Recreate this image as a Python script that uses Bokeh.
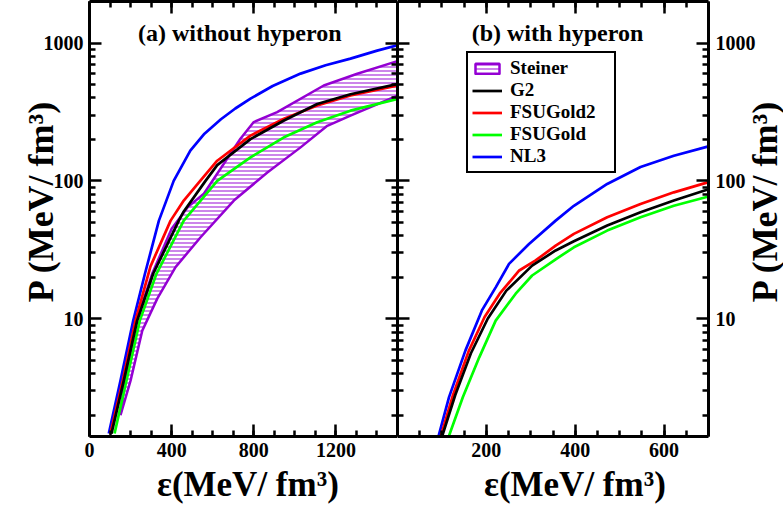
import math
from bokeh.plotting import figure
from bokeh.layouts import row
from bokeh.models import (LogAxis, LinearAxis, FixedTicker, Legend, LegendItem,
                          Label, Range1d)
from bokeh.embed import file_html
from bokeh.resources import INLINE

# ---------------- data ----------------
# panel (a): without hyperon  -- energy density (MeV/fm^3) vs pressure (MeV/fm^3)
eps_nl3_a = [94, 151, 213, 270, 338, 410, 491, 560, 640, 710, 784, 892, 1028, 1150, 1271, 1401, 1500]
p_nl3_a = [1.47, 3.56, 9.7, 21.2, 51.5, 100, 166, 220, 280, 335, 395, 488, 600, 690, 770, 881, 965]

eps_fsu2_a = [102, 162, 224, 297, 395, 459, 532, 622, 784, 947, 1109, 1271, 1500]
p_fsu2_a = [1.47, 3.56, 9.7, 24, 51.5, 72, 97, 140, 213, 282, 352, 416, 492]

eps_g2_a = [107, 167, 232, 310, 435, 459, 565, 622, 784, 947, 1109, 1271, 1500]
p_g2_a = [1.47, 3.56, 9.7, 21.2, 51.5, 60, 100, 130, 201, 274, 361, 425, 505]

eps_fsu_a = [122, 180, 245, 326, 459, 622, 784, 947, 1109, 1271, 1500]
p_fsu_a = [1.47, 3.56, 9.7, 21.2, 51.5, 100, 148, 207, 266, 323, 393]

# Steiner band: upper and lower boundaries
eps_steiner_up = [151, 170, 230, 305, 400, 480, 557, 735, 800, 914, 1141, 1304, 1500]
p_steiner_up = [2.0, 3.56, 9.7, 21.2, 45, 65, 80.6, 202, 267, 315, 492, 598, 740]
eps_steiner_lo = [151, 200, 257, 330, 419, 541, 703, 866, 1028, 1158, 1271, 1500]
p_steiner_lo = [2.0, 3.56, 8.2, 14, 23.7, 39, 72, 115, 175, 251, 297, 415]

# panel (b): with hyperon
eps_nl3_b = [92, 116, 153, 190, 221, 251, 296, 356, 397, 472, 547, 622, 700]
p_nl3_b = [1.39, 2.7, 5.9, 11.5, 16.9, 25, 34.9, 51.5, 66, 95, 126, 152, 178]

eps_fsu2_b = [97, 125, 160, 196, 230, 274, 311, 356, 397, 472, 547, 622, 700]
p_fsu2_b = [1.39, 2.8, 5.8, 10.3, 15.2, 22.4, 26.5, 33.9, 41.3, 54.5, 68, 82.6, 98]

eps_g2_b = [100, 130, 165, 203, 245, 303, 356, 397, 472, 547, 622, 700]
p_g2_b = [1.39, 2.8, 5.6, 10, 16, 24.3, 31.3, 36.5, 47.4, 59.3, 72, 87]

eps_fsu_b = [115, 147, 184, 221, 266, 303, 356, 397, 472, 547, 622, 700]
p_fsu_b = [1.39, 2.7, 5.25, 9.7, 15.2, 20.6, 27, 33, 43.6, 54.5, 66, 77]

# ticks
y_major = [10, 100, 1000]
y_major_labels = ["10", "100", "1000"]
xa_major = [0, 400, 800, 1200]
xa_major_labels = ["0", "400", "800", "1200"]
xa_minor_step = 100
xb_major = [200, 400, 600]
xb_major_labels = ["200", "400", "600"]
xb_minor_step = 50

series_names = ["Steiner", "G2", "FSUGold2", "FSUGold", "NL3"]
title_a = "(a) without hyperon"
title_b = "(b) with hyperon"
x_title = "ε(MeV/ fm³)"
y_title = "P (MeV/ fm³)"

# ---------------- styling ----------------
FONT = "Liberation Serif"
C_STEINER = "#9400D3"
C_G2 = "black"
C_FSU2 = "#FF0000"
C_FSU = "#00FF00"
C_NL3 = "#0000FF"
LW = 2.7
NB = "\u00a0"

Y_RANGE = (1.4, 2000)
y_minor = [m * 10 ** k for k in range(0, 4) for m in range(2, 10)
           if Y_RANGE[0] < m * 10 ** k < Y_RANGE[1]]


def style_axis(ax, ticks, minor, labels=None, standoff=6):
    ax.ticker = FixedTicker(ticks=ticks, minor_ticks=minor)
    ax.axis_line_width = 3
    ax.axis_line_color = "black"
    ax.major_tick_in = 12
    ax.major_tick_out = 0
    ax.minor_tick_in = 6
    ax.minor_tick_out = 0
    ax.major_tick_line_width = 2.5
    ax.minor_tick_line_width = 2.5
    ax.axis_label = None
    if labels is None:
        ax.major_label_overrides = {t: "" for t in ticks}
        ax.major_label_text_font_size = "0px"
        ax.major_label_standoff = 0
    else:
        ax.major_label_overrides = {t: l for t, l in zip(ticks, labels)}
        ax.major_label_text_font = FONT
        ax.major_label_text_font_style = "bold"
        ax.major_label_text_font_size = "20px"
        ax.major_label_text_color = "black"
        ax.major_label_standoff = standoff


def axis_title(ax, text, size, standoff):
    ax.axis_label = text
    ax.axis_label_text_font = FONT
    ax.axis_label_text_font_style = "bold"
    ax.axis_label_text_font_size = size
    ax.axis_label_text_color = "black"
    ax.axis_label_standoff = standoff


def text_label(x, y, text, size):
    return Label(x=x, y=y, x_units="data", y_units="data", text=text,
                 text_align="center", text_baseline="alphabetic", text_font=FONT,
                 text_font_style="bold", text_font_size=size, text_color="black")


def steiner_patch(p, **kw):
    return p.patch(eps_steiner_up + eps_steiner_lo[::-1], p_steiner_up + p_steiner_lo[::-1],
                   fill_alpha=0, line_color=C_STEINER, line_width=2.5,
                   hatch_pattern="horizontal_line", hatch_color=C_STEINER, hatch_scale=4,
                   hatch_weight=1.2, hatch_alpha=0.8, **kw)


# ---------------- panel (a) ----------------
p1 = figure(width=397, height=512, x_range=Range1d(0, 1500), y_range=Range1d(*Y_RANGE),
            y_axis_type="log", output_backend="svg", toolbar_location=None,
            min_border_left=89, min_border_right=0, min_border_top=1, min_border_bottom=76)
p1.grid.visible = False
p1.outline_line_color = None
xa_minor = list(range(0, 1501, xa_minor_step))
style_axis(p1.xaxis[0], xa_major, xa_minor, xa_major_labels)
style_axis(p1.yaxis[0], y_major, y_minor, y_major_labels)
axis_title(p1.xaxis[0], NB + x_title, "35px", 5)
axis_title(p1.yaxis[0], NB * 4 + y_title, "36px", -20)
ax = LinearAxis()
style_axis(ax, xa_major, xa_minor)
p1.add_layout(ax, "above")
ax = LogAxis()
style_axis(ax, y_major, y_minor)
p1.add_layout(ax, "right")

steiner_patch(p1)
p1.line(eps_nl3_a, p_nl3_a, line_color=C_NL3, line_width=LW)
p1.line(eps_fsu_a, p_fsu_a, line_color=C_FSU, line_width=LW)
p1.line(eps_fsu2_a, p_fsu2_a, line_color=C_FSU2, line_width=LW)
p1.line(eps_g2_a, p_g2_a, line_color=C_G2, line_width=LW)

p1.add_layout(text_label(732, 1180, title_a, "24px"))

# ---------------- panel (b) ----------------
p2 = figure(width=386, height=512, x_range=Range1d(0, 700), y_range=Range1d(*Y_RANGE),
            y_axis_type="log", y_axis_location="right", output_backend="svg",
            toolbar_location=None, min_border_left=0, min_border_right=75,
            min_border_top=1, min_border_bottom=76)
p2.grid.visible = False
p2.outline_line_color = None
xb_minor = list(range(0, 701, xb_minor_step))
style_axis(p2.xaxis[0], xb_major, xb_minor, xb_major_labels)
style_axis(p2.yaxis[0], y_major, y_minor, y_major_labels, standoff=7)
axis_title(p2.xaxis[0], NB * 5 + x_title, "35px", 5)
ax = LinearAxis()
style_axis(ax, xb_major, xb_minor)
p2.add_layout(ax, "above")
ax = LogAxis()
style_axis(ax, y_major, y_minor)
# the right-hand axis title reads upwards like the left one; it is carried by the
# inner (left) axis of this panel and pushed across to the right margin
axis_title(ax, NB * 4 + y_title, "36px", -387)
p2.add_layout(ax, "left")

# Steiner band is only shown in panel (a); here it only feeds the legend
r_st = steiner_patch(p2, visible=False)
r_nl3 = p2.line(eps_nl3_b, p_nl3_b, line_color=C_NL3, line_width=LW)
r_fsu = p2.line(eps_fsu_b, p_fsu_b, line_color=C_FSU, line_width=LW)
r_fsu2 = p2.line(eps_fsu2_b, p_fsu2_b, line_color=C_FSU2, line_width=LW)
r_g2 = p2.line(eps_g2_b, p_g2_b, line_color=C_G2, line_width=LW)

legend = Legend(
    items=[LegendItem(label=n, renderers=[r]) for n, r in
           zip(series_names, [r_st, r_g2, r_fsu2, r_fsu, r_nl3])],
    location=(69, 263), orientation="vertical",
    label_text_font=FONT, label_text_font_style="bold", label_text_font_size="19px",
    label_text_line_height=1.0, label_text_color="black",
    label_height=21, glyph_height=13, glyph_width=30, label_standoff=8,
    label_width=100, spacing=0, padding=4, margin=0,
    border_line_color="black", border_line_width=2, border_line_alpha=1,
    background_fill_color="white", background_fill_alpha=1,
)
p2.add_layout(legend)

p2.add_layout(text_label(360, 1180, title_b, "24px"))

layout = row(p1, p2)

open("out.html", "w").write(file_html(layout, INLINE))
